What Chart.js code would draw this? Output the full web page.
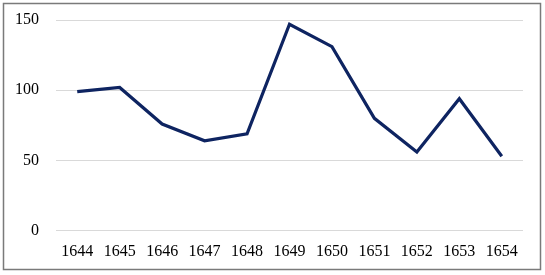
<!DOCTYPE html>
<html>
<head>
<meta charset="utf-8">
<script src="https://cdn.jsdelivr.net/npm/chart.js@4"></script>
<style>
  html, body { margin:0; padding:0; background:#fff; }
  #wrap { position:relative; width:545px; height:275px; }
</style>
</head>
<body>
<div id="wrap"><canvas id="chart" width="545" height="275"></canvas></div>
<script>
const YEARS = ["1644","1645","1646","1647","1648","1649","1650","1651","1652","1653","1654"];
const VALUES = [99, 102, 76, 64, 69, 147, 131, 80, 56, 94, 53];
const Y_TICKS = [0, 50, 100, 150];

// outer frame like the spreadsheet chart box
const frame = {
  id: "frame",
  afterDraw(chart){
    const c = chart.ctx;
    c.save();
    c.strokeStyle = "#7a7a7a";
    c.lineWidth = 1.5;
    c.strokeRect(3.5, 3.5, 537, 266);
    c.restore();
  }
};

const FONT = { family: "'Liberation Serif', 'DejaVu Serif', serif", size: 16 };

const ctx = document.getElementById("chart").getContext("2d");
new Chart(ctx, {
  type: "line",
  data: {
    labels: YEARS,
    datasets: [{
      data: VALUES,
      borderColor: "#0e2461",
      borderWidth: 3.2,
      pointRadius: 0,
      tension: 0,
      fill: false,
    }]
  },
  options: {
    responsive: false,
    animation: false,
    layout: { padding: { top: 20, right: 22, bottom: 3, left: 0 } },
    plugins: { legend: { display: false }, tooltip: { enabled: false } },
    scales: {
      x: {
        offset: true,
        grid: { display: false, drawTicks: false },
        border: { display: false },
        ticks: { color: "#000", padding: 11, maxRotation: 0, font: FONT },
        afterFit: (s) => { s.paddingLeft = 0; s.paddingRight = 0; },
      },
      y: {
        min: 0,
        max: 150,
        afterBuildTicks: (s) => { s.ticks = Y_TICKS.map(v => ({ value: v })); },
        afterFit: (s) => { s.width = 56; s.paddingTop = 0; s.paddingBottom = 0; },
        grid: { color: "#d9d9d9", lineWidth: 1, drawTicks: false },
        border: { display: false },
        ticks: { color: "#000", padding: 17, font: FONT },
      }
    }
  },
  plugins: [frame]
});
</script>
</body>
</html>
